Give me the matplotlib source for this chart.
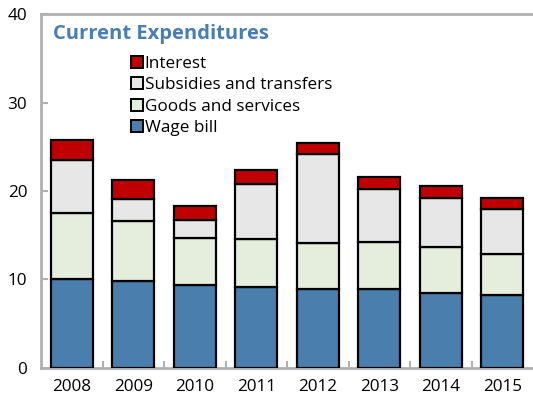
import numpy as np
import matplotlib
matplotlib.use("Agg")
import matplotlib.pyplot as plt
from matplotlib.patches import Patch

plt.rcParams['font.family'] = ['Open Sans', 'DejaVu Sans']

years = ['2008', '2009', '2010', '2011', '2012', '2013', '2014', '2015']
wage_bill = [10.0, 9.85, 9.3, 9.15, 8.95, 8.95, 8.4, 8.25]
goods_services = [7.55, 6.75, 5.35, 5.35, 5.15, 5.25, 5.2, 4.65]
subsidies = [5.9, 2.5, 2.05, 6.3, 10.1, 6.0, 5.65, 5.0]
interest = [2.35, 2.1, 1.6, 1.6, 1.2, 1.4, 1.25, 1.25]

series = [
    ('Wage bill', wage_bill, '#4A7FAD'),
    ('Goods and services', goods_services, '#E5EEDC'),
    ('Subsidies and transfers', subsidies, '#E7E7E7'),
    ('Interest', interest, '#C00000'),
]

fig = plt.figure(figsize=(5.33, 4.04), dpi=100)
ax = fig.add_axes([0.077, 0.09, 0.923, 0.875])

x = np.arange(len(years))
bottom = np.zeros(len(years))
handles = []
for name, vals, col in series:
    ax.bar(x, vals, width=0.68, bottom=bottom, color=col,
           edgecolor='black', linewidth=1.6, zorder=3)
    bottom += np.array(vals)
    handles.append(Patch(facecolor=col, edgecolor='black', linewidth=1.4, label=name))

ax.set_xlim(-0.5, 7.5)
ax.set_ylim(0, 40)
ax.set_yticks([0, 10, 20, 30, 40])

ax.set_xticks(x)
ax.set_xticklabels(years, fontsize=12.3)
ax.set_xticks(np.arange(0.5, 7.5, 1), minor=True)
ax.tick_params(axis='x', which='major', length=0, pad=8)
ax.tick_params(axis='x', which='minor', direction='in', length=5, width=1.5, color='#B0B0B0')
ax.tick_params(axis='y', direction='in', length=5, width=1.5, color='#B0B0B0',
               labelsize=12.3, pad=10)

for s in ['left', 'bottom', 'top']:
    ax.spines[s].set_color('#B0B0B0')
    ax.spines[s].set_linewidth(2)
ax.spines['right'].set_visible(False)

ax.text(0.024, 0.945, 'Current Expenditures', transform=ax.transAxes,
        fontsize=14.5, fontweight='bold', color='#4A7EB0', va='center', ha='left')

leg = ax.legend(handles=handles[::-1], loc='upper left', bbox_to_anchor=(0.165, 0.905),
                frameon=False, fontsize=12.3, handlelength=0.7, handleheight=0.7,
                handletextpad=0.12, labelspacing=0.3, borderpad=0)

fig.savefig('out.png', dpi=100)
